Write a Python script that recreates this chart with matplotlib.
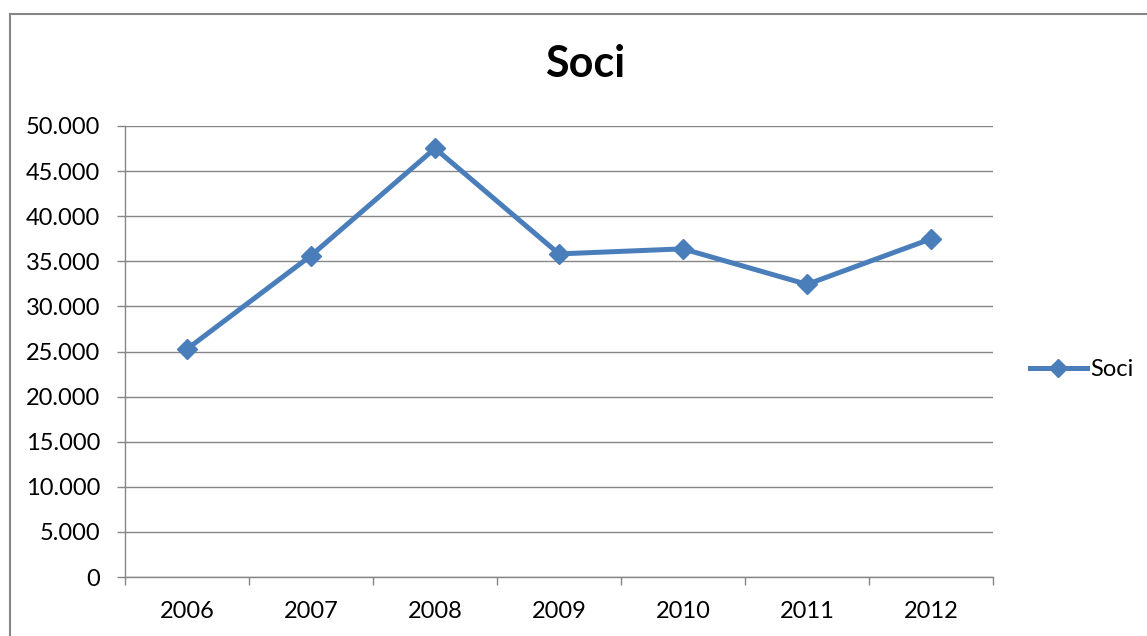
import matplotlib
matplotlib.use("Agg")
import matplotlib.pyplot as plt
from matplotlib.ticker import FuncFormatter, FixedLocator
from matplotlib.lines import Line2D

years = ["2006", "2007", "2008", "2009", "2010", "2011", "2012"]
soci = [25270, 35630, 47520, 35820, 36380, 32440, 37490]
series_name = "Soci"
title = "Soci"
yticks = [0, 5000, 10000, 15000, 20000, 25000, 30000, 35000, 40000, 45000, 50000]

plt.rcParams['font.family'] = ['Lato', 'DejaVu Sans']
W, H = 1147, 636
fig = plt.figure(figsize=(W / 100, H / 100), dpi=100)
ax = fig.add_axes([125 / W, 1 - 577 / H, (993 - 125) / W, (577 - 126) / H])

blue = "#4A7EBB"
grid = "#868686"
fs = 17
x = list(range(len(years)))
ax.plot(x, soci, color=blue, lw=3.6, marker='D', ms=10, mfc=blue, mec=blue,
        mew=1, label=series_name, zorder=3, solid_joinstyle='miter')

ax.set_xlim(-0.5, len(years) - 0.5)
ax.set_ylim(0, 50000)
ax.set_yticks(yticks)
ax.yaxis.set_major_formatter(FuncFormatter(lambda v, p: f"{int(v):,}".replace(",", ".")))
ax.yaxis.grid(True, color=grid, lw=1.0)
ax.set_axisbelow(True)

ax.set_xticks(x)
ax.set_xticklabels(years)
ax.xaxis.set_minor_locator(FixedLocator([i - 0.5 for i in range(len(years) + 1)]))
ax.tick_params(axis='x', which='major', length=0, pad=17, labelsize=fs, colors='black')
ax.tick_params(axis='x', which='minor', length=6, width=1, color=grid, direction='out')
ax.tick_params(axis='y', length=6, width=1, color=grid, direction='out', pad=12,
               labelsize=fs, labelcolor='black')

for s in ['top', 'right']:
    ax.spines[s].set_visible(False)
for s in ['left', 'bottom']:
    ax.spines[s].set_color(grid)
    ax.spines[s].set_linewidth(1.0)

fig.text(585 / W, 1 - 64 / H, title, ha='center', va='center', fontsize=31, fontweight='bold')

ax.legend(loc='center left', bbox_to_anchor=(1030 / W, 1 - 370 / H), bbox_transform=fig.transFigure,
          frameon=False, fontsize=fs, handlelength=2.4, handletextpad=0.15, borderpad=0, borderaxespad=0,
          markerscale=0.9)

# chart border
fig.add_artist(Line2D([9.5 / W, 9.5 / W], [-0.1, 1 - 14 / H], color=grid, lw=1.5, transform=fig.transFigure))
fig.add_artist(Line2D([9.5 / W, 1.1], [1 - 14 / H, 1 - 14 / H], color=grid, lw=1.5, transform=fig.transFigure))

fig.savefig("out.png", dpi=100)
